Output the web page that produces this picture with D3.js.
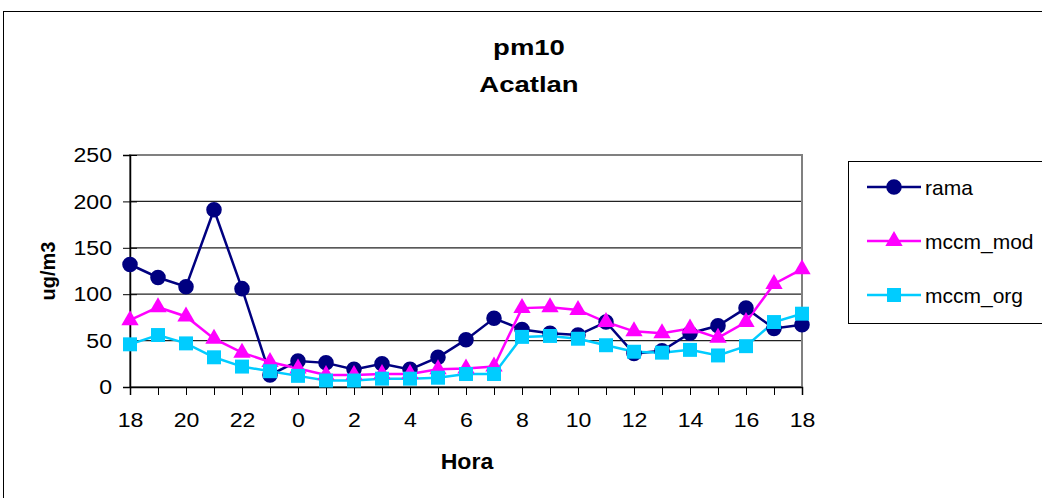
<!DOCTYPE html>
<html><head><meta charset="utf-8">
<script src="https://cdn.jsdelivr.net/npm/d3@7"></script>
<style>body{margin:0;background:#fff}svg{display:block;font-family:"Liberation Sans",Arial,sans-serif}</style>
</head><body>
<svg id="c" width="1042" height="498"></svg>
<script>
const hours = [18,19,20,21,22,23,0,1,2,3,4,5,6,7,8,9,10,11,12,13,14,15,16,17,18];
const rama = [132,118,108,191,106,13,28,26,19,25,19,32,51,74,62,58,56,70,36,39,58,66,85,63,67];
const mccmMod = [72,86,76,52,37,27,20,13,13,14,14,19,20,22,85,86,83,70,60,58,63,53,70,111,127];
const mccmOrg = [46,56,47,32,22,17,12,7,7,9,9,10,14,14,54,55,52,45,38,37,40,34,44,70,79];
const yTicks = [0,50,100,150,200,250];
const seriesNames = ["rama","mccm_mod","mccm_org"];
const seriesColors = ["#000080","#FF00FF","#00CCFF"];
const seriesShapes = [d3.symbolCircle, d3.symbolTriangle, d3.symbolSquare];

const FONT = "Liberation Sans, Arial, sans-serif";
const svg = d3.select("#c");
svg.append("rect").attr("x",3.5).attr("y",11.5).attr("width",1100).attr("height",600)
  .attr("fill","#fff").attr("stroke","#000").attr("stroke-width",1);

const L=130, R=802, T=155, B=387;
const x = d3.scalePoint().domain(d3.range(hours.length)).range([L,R]);
const y = d3.scaleLinear().domain([0,250]).range([B,T]);

svg.append("g").selectAll("line").data(yTicks.filter(d=>d>0 && d<250)).join("line")
  .attr("x1",L).attr("x2",R).attr("y1",d=>y(d)).attr("y2",d=>y(d))
  .attr("stroke","#222").attr("stroke-width",1.2);
svg.append("rect").attr("x",L).attr("y",T).attr("width",R-L).attr("height",B-T)
  .attr("fill","none").attr("stroke","#808080").attr("stroke-width",2);

function stretch(sel, s){
  sel.each(function(){
    const t=d3.select(this);
    const xv = +t.attr("x") || 0;
    t.attr("x", xv/s).attr("transform", `scale(${s},1)`);
  });
}

const yAxis = svg.append("g").attr("transform",`translate(${L},0)`)
  .call(d3.axisLeft(y).tickValues(yTicks).tickSize(7).tickPadding(11));
yAxis.select(".domain").attr("stroke","#000").attr("stroke-width",1.5);
yAxis.selectAll(".tick line").attr("stroke","#000").attr("x1",7).attr("x2",-7);
yAxis.selectAll("text").attr("font-size",21).attr("fill","#000").attr("font-family",FONT);
stretch(yAxis.selectAll("text"),1.1);

const xAxis = svg.append("g").attr("transform",`translate(0,${B})`)
  .call(d3.axisBottom(x).tickSize(8).tickPadding(17)
    .tickFormat(i => i%2===0 ? hours[i] : ""));
xAxis.select(".domain").attr("stroke","#000").attr("stroke-width",1.5);
xAxis.selectAll(".tick line").attr("stroke","#000");
xAxis.selectAll("text").attr("font-size",21).attr("fill","#000").attr("font-family",FONT);
stretch(xAxis.selectAll("text"),1.1);

const data = [rama, mccmMod, mccmOrg];
const line = d3.line().x((d,i)=>x(i)).y(d=>y(d));
const sizes = [190, 130, 195];
data.forEach((s,k)=>{
  svg.append("path").datum(s).attr("d",line).attr("fill","none")
    .attr("stroke",seriesColors[k]).attr("stroke-width",2.5);
});
data.forEach((s,k)=>{
  svg.append("g").selectAll("path").data(s).join("path")
    .attr("transform",(d,i)=>`translate(${x(i)},${y(d)})`)
    .attr("d",d3.symbol().type(seriesShapes[k]).size(sizes[k]))
    .attr("fill",seriesColors[k]);
});

function label(txt, px, py, size, bold, s, rot){
  svg.append("text")
    .attr("transform", `translate(${px},${py})` + (rot?` rotate(${rot})`:"") + ` scale(${s},1)`)
    .attr("text-anchor", "middle").attr("font-size", size)
    .attr("font-weight", bold?"bold":"normal").attr("font-family",FONT).text(txt);
}
label("pm10", 529, 55, 22, true, 1.25);
label("Acatlan", 529, 92, 22, true, 1.25);
label("Hora", 467, 469, 22, true, 1.05);
label("ug/m3", 55, 271, 20, true, 1.0, -90);

svg.append("rect").attr("x",848.5).attr("y",161.5).attr("width",250).attr("height",162)
  .attr("fill","#fff").attr("stroke","#000").attr("stroke-width",1);
const ly = [187,241,295];
seriesNames.forEach((n,k)=>{
  const g = svg.append("g");
  g.append("line").attr("x1",867).attr("x2",921).attr("y1",ly[k]).attr("y2",ly[k])
    .attr("stroke",seriesColors[k]).attr("stroke-width",2.5);
  g.append("path").attr("transform",`translate(894,${ly[k]})`)
    .attr("d",d3.symbol().type(seriesShapes[k]).size(sizes[k])).attr("fill",seriesColors[k]);
  g.append("text").attr("transform",`translate(925,${ly[k]+8}) scale(1.05,1)`)
    .attr("font-size",20).attr("font-family",FONT).text(n);
});
</script>
</body></html>
